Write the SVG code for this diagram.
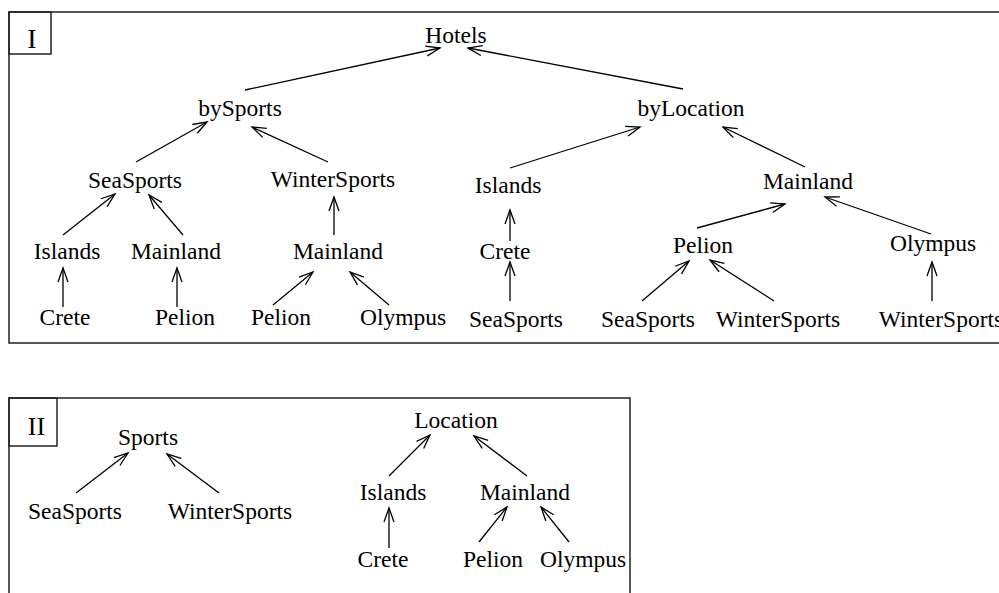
<svg xmlns="http://www.w3.org/2000/svg" width="999" height="593" viewBox="0 0 999 593">
  <style>
    text { font-family: "Liberation Serif", "Times New Roman", serif; font-size: 23.5px; fill: #000; text-anchor: middle; }
    .frame { fill: none; stroke: #222; stroke-width: 1.5; }
    .edge { stroke: #000; stroke-width: 1.3; fill: none; marker-end: url(#open); }
  </style>
  <defs>
    <marker id="open" markerUnits="userSpaceOnUse" markerWidth="20" markerHeight="14" refX="0" refY="0" viewBox="-16 -7 18 14" orient="auto" overflow="visible">
      <path d="M -14 -5 L 0 0 L -14 5" fill="none" stroke="#000" stroke-width="1.3"/>
    </marker>
  </defs>
  <rect width="999" height="593" fill="#fff"/>

  <!-- Panel I frames -->
  <g id="panel-I">
    <path class="frame" d="M 1010 12 L 9 12 L 9 343 L 1010 343"/>
    <rect class="frame" x="9" y="12" width="42" height="42"/>
    <text x="32" y="48" style="font-size:28px">I</text>
  </g>

  <!-- Panel II frames -->
  <g id="panel-II">
    <path class="frame" d="M 9 600 L 9 398 L 630 398 L 630 600"/>
    <rect class="frame" x="9" y="398" width="48" height="48"/>
    <text x="36.5" y="435" style="font-size:26px">II</text>
  </g>

  <!-- connectors -->
  <g id="edges">
    <!-- panel I -->
    <line class="edge" x1="245" y1="90" x2="440" y2="48"/>
    <line class="edge" x1="683" y1="89" x2="468" y2="48"/>
    <line class="edge" x1="136" y1="162" x2="207" y2="122"/>
    <line class="edge" x1="328" y1="162" x2="252" y2="127"/>
    <line class="edge" x1="63" y1="235" x2="115" y2="194"/>
    <line class="edge" x1="183" y1="235" x2="149" y2="195"/>
    <line class="edge" x1="63" y1="307" x2="63" y2="268"/>
    <line class="edge" x1="177" y1="307" x2="177" y2="268"/>
    <line class="edge" x1="334" y1="235" x2="334" y2="197"/>
    <line class="edge" x1="273" y1="305" x2="313" y2="272"/>
    <line class="edge" x1="389" y1="305" x2="350" y2="272"/>
    <line class="edge" x1="510" y1="168" x2="640" y2="127"/>
    <line class="edge" x1="805" y1="167" x2="723" y2="127"/>
    <line class="edge" x1="510" y1="241" x2="510" y2="210"/>
    <line class="edge" x1="510" y1="301" x2="510" y2="262"/>
    <line class="edge" x1="697" y1="228" x2="785" y2="204"/>
    <line class="edge" x1="931" y1="234" x2="825" y2="197"/>
    <line class="edge" x1="642" y1="301" x2="689" y2="261"/>
    <line class="edge" x1="774" y1="301" x2="710" y2="260"/>
    <line class="edge" x1="932" y1="301" x2="932" y2="262"/>
    <!-- panel II -->
    <line class="edge" x1="76" y1="493" x2="128" y2="453"/>
    <line class="edge" x1="219" y1="493" x2="167" y2="454"/>
    <line class="edge" x1="389" y1="476" x2="430" y2="435"/>
    <line class="edge" x1="527" y1="476" x2="474" y2="436"/>
    <line class="edge" x1="389" y1="548" x2="389" y2="508"/>
    <line class="edge" x1="479" y1="542" x2="507" y2="507"/>
    <line class="edge" x1="569" y1="542" x2="541" y2="507"/>
  </g>

  <!-- panel I nodes -->
  <g id="n-hotels"><text x="456" y="43">Hotels</text></g>
  <g id="n-bysports"><text x="240" y="116">bySports</text></g>
  <g id="n-bylocation"><text x="691" y="116">byLocation</text></g>
  <g id="n-seasports"><text x="135" y="188">SeaSports</text></g>
  <g id="n-wintersports"><text x="333" y="187">WinterSports</text></g>
  <g id="n-s-islands"><text x="67" y="259">Islands</text></g>
  <g id="n-s-mainland"><text x="176" y="259">Mainland</text></g>
  <g id="n-w-mainland"><text x="338" y="259">Mainland</text></g>
  <g id="n-s-crete"><text x="65" y="325">Crete</text></g>
  <g id="n-s-pelion"><text x="185" y="325">Pelion</text></g>
  <g id="n-w-pelion"><text x="281" y="325">Pelion</text></g>
  <g id="n-w-olympus"><text x="403" y="325">Olympus</text></g>
  <g id="n-l-islands"><text x="508" y="193">Islands</text></g>
  <g id="n-l-mainland"><text x="808" y="189">Mainland</text></g>
  <g id="n-l-crete"><text x="505" y="259">Crete</text></g>
  <g id="n-l-seasports"><text x="516" y="327">SeaSports</text></g>
  <g id="n-l-pelion"><text x="703" y="253">Pelion</text></g>
  <g id="n-l-olympus"><text x="933" y="251">Olympus</text></g>
  <g id="n-p-seasports"><text x="648" y="327">SeaSports</text></g>
  <g id="n-p-wintersports"><text x="778" y="327">WinterSports</text></g>
  <g id="n-o-wintersports"><text x="941" y="327">WinterSports</text></g>

  <!-- panel II nodes -->
  <g id="n-sports"><text x="148" y="445">Sports</text></g>
  <g id="n-2-seasports"><text x="75" y="519">SeaSports</text></g>
  <g id="n-2-wintersports"><text x="230" y="519">WinterSports</text></g>
  <g id="n-location"><text x="456" y="428">Location</text></g>
  <g id="n-2-islands"><text x="393" y="500">Islands</text></g>
  <g id="n-2-mainland"><text x="525" y="500">Mainland</text></g>
  <g id="n-2-crete"><text x="383" y="567">Crete</text></g>
  <g id="n-2-pelion"><text x="493" y="567">Pelion</text></g>
  <g id="n-2-olympus"><text x="583" y="567">Olympus</text></g>
</svg>
